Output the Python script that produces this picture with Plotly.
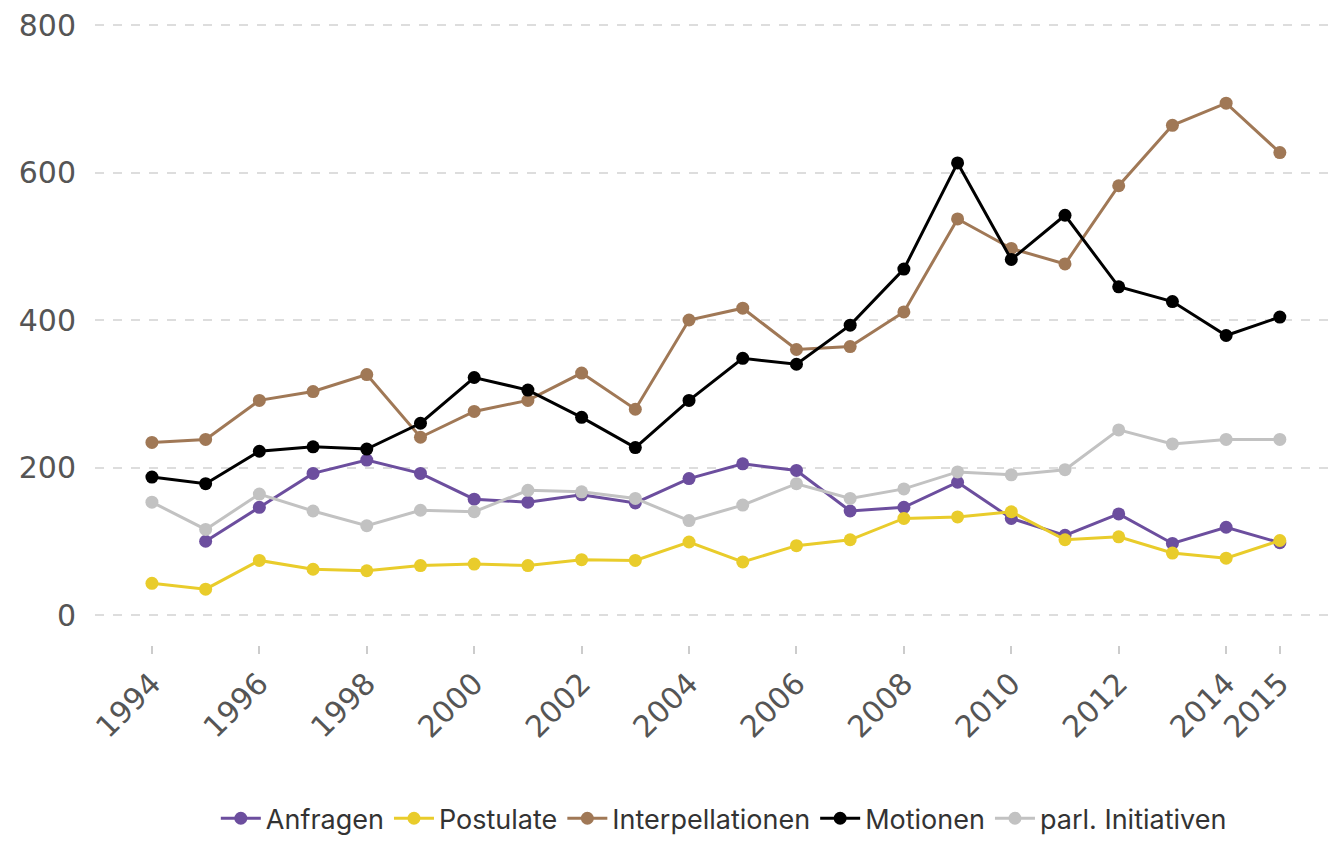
import plotly.graph_objects as go

years = list(range(1994, 2016))

anfragen = [None, 100, 146, 192, 210, 192, 157, 153, 163, 152, 185, 205, 196, 141, 146, 180, 131, 108, 137, 97, 119, 98]
postulate = [43, 35, 74, 62, 60, 67, 69, 67, 75, 74, 99, 72, 94, 102, 131, 133, 140, 102, 106, 84, 77, 101]
interpellationen = [234, 238, 291, 303, 326, 241, 276, 291, 328, 279, 400, 416, 360, 364, 411, 537, 497, 476, 582, 664, 694, 627]
motionen = [187, 178, 222, 228, 225, 260, 322, 305, 268, 227, 291, 348, 340, 393, 469, 613, 482, 542, 445, 425, 379, 404]
initiativen = [153, 116, 164, 141, 121, 142, 140, 169, 167, 158, 128, 149, 178, 158, 171, 194, 190, 197, 251, 232, 238, 238]

series_names = ["Anfragen", "Postulate", "Interpellationen", "Motionen", "parl. Initiativen"]
series_values = [anfragen, postulate, interpellationen, motionen, initiativen]
colors = ["#6C4E9E", "#E9CC2B", "#A07856", "#000000", "#C2C2C2"]

tick_years = [1994, 1996, 1998, 2000, 2002, 2004, 2006, 2008, 2010, 2012, 2014, 2015]
y_ticks = [0, 200, 400, 600, 800]

fig = go.Figure()
for i in range(5):
    fig.add_trace(go.Scatter(
        x=years, y=series_values[i], name=series_names[i], mode="lines+markers",
        line=dict(color=colors[i], width=3),
        marker=dict(color=colors[i], size=13),
        connectgaps=False, cliponaxis=False,
    ))

fig.update_layout(
    width=1343, height=841,
    paper_bgcolor="white", plot_bgcolor="white",
    margin=dict(l=87, r=11, t=12, b=204),
    font=dict(family="DejaVu Sans", color="#555555"),
    showlegend=True,
    legend=dict(orientation="h", xref="container", yref="container",
                x=0.533, xanchor="center", y=0.036, yanchor="middle",
                font=dict(family="Inter", size=27, color="#333333"),
                itemwidth=40, tracegroupgap=0),
    xaxis=dict(range=[1992.94, 2016.12], tickvals=tick_years, ticktext=[str(t) for t in tick_years],
               tickangle=-45, tickfont=dict(family="DejaVu Sans", size=30, color="#555555"),
               showgrid=False, zeroline=False, showline=False, automargin=False,
               ticklabeloverflow="allow",
               ticks="outside", ticklen=8, tickwidth=2, tickcolor="#cccccc"),
    yaxis=dict(range=[-40.68, 806.78], tickvals=y_ticks,
               tickfont=dict(family="DejaVu Sans", size=30, color="#555555"),
               showgrid=True, gridcolor="#dddddd", griddash="dash", gridwidth=2,
               ticklabeloverflow="allow",
               zeroline=False, showline=False, ticklabelstandoff=18, automargin=False),
)

fig.write_html("out.html")
